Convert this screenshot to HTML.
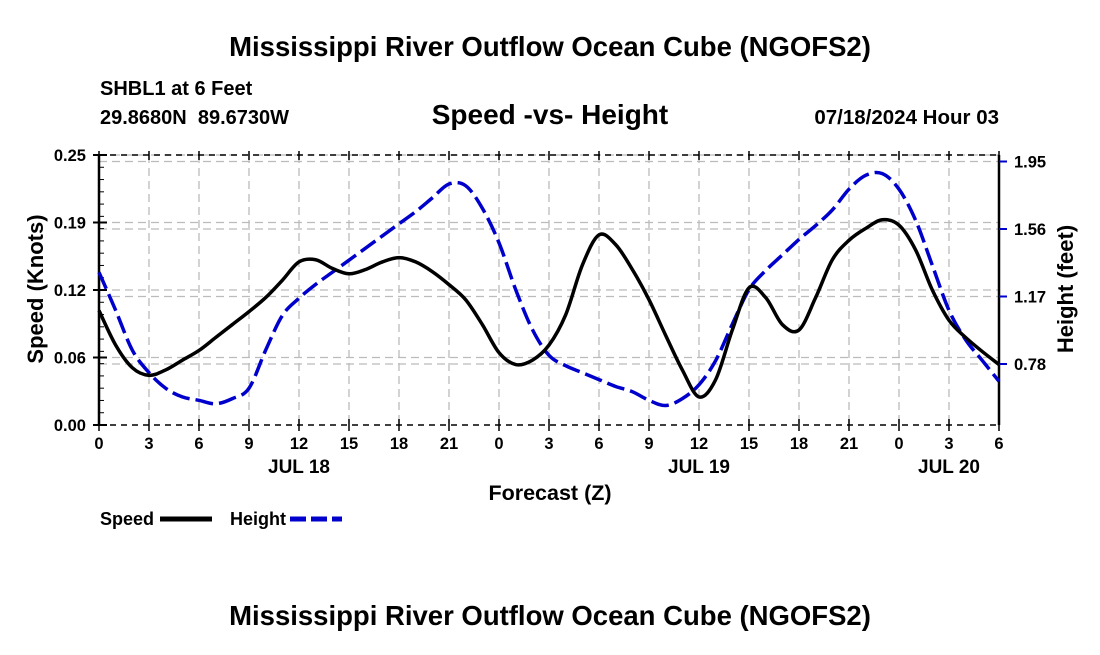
<!DOCTYPE html>
<html><head><meta charset="utf-8"><style>
body{margin:0;background:#fff;}
svg text{font-family:"Liberation Sans",Arial,sans-serif;font-weight:bold;fill:#000;}
</style></head><body>
<svg width="1100" height="650" viewBox="0 0 1100 650" xmlns="http://www.w3.org/2000/svg">
<text x="550" y="56" font-size="27.5" text-anchor="middle">Mississippi River Outflow Ocean Cube (NGOFS2)</text>
<text x="100" y="95" font-size="20">SHBL1 at 6 Feet</text>
<text x="100" y="124" font-size="20">29.8680N&#160;&#160;89.6730W</text>
<text x="550" y="124" font-size="28" text-anchor="middle">Speed -vs- Height</text>
<text x="999" y="124" font-size="20.5" text-anchor="end">07/18/2024 Hour 03</text>
<g id="grid"></g>
<g id="axes"></g>
<g id="series"></g>
<text x="0" y="0" font-size="22" text-anchor="middle" transform="translate(43,289) rotate(-90)">Speed (Knots)</text>
<text x="0" y="0" font-size="22" text-anchor="middle" transform="translate(1073,289) rotate(-90)">Height (feet)</text>
<text x="550" y="500" font-size="21.5" text-anchor="middle">Forecast (Z)</text>
<text x="100" y="525" font-size="18">Speed</text>
<line x1="160" y1="519" x2="212" y2="519" stroke="#000" stroke-width="5"/>
<text x="230" y="525" font-size="18">Height</text>
<line x1="290" y1="519" x2="342" y2="519" stroke="#0000cc" stroke-width="5" stroke-dasharray="16,5"/>
<text x="550" y="625" font-size="27.5" text-anchor="middle">Mississippi River Outflow Ocean Cube (NGOFS2)</text>
</svg>
<script>
const hours=[0,1,2,3,4,5,6,7,8,9,10,11,12,13,14,15,16,17,18,19,20,21,22,23,24,25,26,27,28,29,30,31,32,33,34,35,36,37,38,39,40,41,42,43,44,45,46,47,48,49,50,51,52,53,54];
const speed=[0.106,0.074,0.053,0.046,0.051,0.060,0.069,0.081,0.093,0.105,0.118,0.134,0.151,0.153,0.145,0.140,0.144,0.151,0.155,0.151,0.142,0.130,0.116,0.093,0.067,0.056,0.060,0.074,0.102,0.148,0.176,0.167,0.144,0.116,0.083,0.051,0.026,0.042,0.088,0.127,0.118,0.093,0.088,0.118,0.153,0.171,0.182,0.190,0.185,0.162,0.125,0.097,0.081,0.068,0.056];
const height=[1.31,1.09,0.86,0.73,0.64,0.59,0.57,0.55,0.58,0.64,0.86,1.06,1.16,1.24,1.31,1.38,1.45,1.52,1.59,1.66,1.74,1.82,1.81,1.68,1.48,1.21,0.98,0.83,0.77,0.73,0.69,0.65,0.62,0.57,0.54,0.58,0.66,0.80,1.01,1.21,1.32,1.41,1.50,1.58,1.67,1.79,1.87,1.88,1.79,1.61,1.35,1.09,0.92,0.80,0.68];
const xTickLabels=["0","3","6","9","12","15","18","21","0","3","6","9","12","15","18","21","0","3","6"];
const dayLabels=["JUL 18","JUL 19","JUL 20"];
const dayHours=[12,36,51];
const leftTicks=[0,0.0625,0.125,0.1875,0.25];
const leftTickLabels=["0.00","0.06","0.12","0.19","0.25"];
const rightTicks=[0.78,1.17,1.56,1.95];
const rightTickLabels=["0.78","1.17","1.56","1.95"];

const X0=99,X1=999,Y0=425,Y1=155;
const xs=h=>X0+(X1-X0)*h/54;
const ys=v=>Y0-(Y0-Y1)*v/0.25;
const yh=v=>364-(v-0.78)*(67.5/0.39);
const NS="http://www.w3.org/2000/svg";
function mk(parent,tag,attrs){const e=document.createElementNS(NS,tag);for(const k in attrs)e.setAttribute(k,attrs[k]);document.getElementById(parent).appendChild(e);return e;}

for(let i=1;i<xTickLabels.length-1;i++){const l=mk('grid','line',{x1:xs(i*3),x2:xs(i*3),y1:Y1,y2:Y0,stroke:'#bbb','stroke-width':1.3,'stroke-dasharray':'8,5'});

}
leftTicks.slice(1).forEach(v=>{const l=mk('grid','line',{x1:X0,x2:X1,y1:ys(v),y2:ys(v),stroke:'#bbb','stroke-width':1.3,'stroke-dasharray':'8,5'});

});
rightTicks.forEach(v=>{const l=mk('grid','line',{x1:X0,x2:X1,y1:yh(v),y2:yh(v),stroke:'#bbb','stroke-width':1.3,'stroke-dasharray':'8,5'});

});

mk('axes','line',{x1:X0,x2:X0,y1:Y1,y2:Y0,stroke:'#000','stroke-width':2.5});
mk('axes','line',{x1:X1,x2:X1,y1:Y1,y2:Y0,stroke:'#000','stroke-width':2.5});
mk('axes','line',{x1:X0,x2:X1,y1:Y0,y2:Y0,stroke:'#000','stroke-width':1.5,'stroke-dasharray':'6,5'});
mk('axes','line',{x1:X0,x2:X1,y1:Y1,y2:Y1,stroke:'#000','stroke-width':1.5,'stroke-dasharray':'6,5'});
for(let v=0;v<=0.25001;v+=0.25/22){mk('axes','line',{x1:X0,x2:X0+5,y1:ys(v),y2:ys(v),stroke:'#000','stroke-width':1});}
leftTicks.forEach((v,i)=>{mk('axes','line',{x1:X0-6,x2:X0+8,y1:ys(v),y2:ys(v),stroke:'#000','stroke-width':2});
const t=mk('axes','text',{x:X0-13,y:ys(v)+6,'font-size':16.5,'text-anchor':'end'});t.textContent=leftTickLabels[i];

});
rightTicks.forEach((v,i)=>{mk('axes','line',{x1:X1,x2:X1+8,y1:yh(v),y2:yh(v),stroke:'#0000cc','stroke-width':2});
const t=mk('axes','text',{x:X1+15,y:yh(v)+6,'font-size':16.5});t.textContent=rightTickLabels[i];

});
xTickLabels.forEach((s,i)=>{const x=xs(i*3);
mk('axes','line',{x1:x,x2:x,y1:Y0-6,y2:Y0+6,stroke:'#000','stroke-width':1.5});
mk('axes','line',{x1:x,x2:x,y1:Y1-4,y2:Y1+5,stroke:'#000','stroke-width':1.5});
const t=mk('axes','text',{x:x,y:Y0+24,'font-size':16.5,'text-anchor':'middle'});t.textContent=s;

});
dayLabels.forEach((s,i)=>{const t=mk('axes','text',{x:xs(dayHours[i]),y:Y0+48,'font-size':19,'text-anchor':'middle'});t.textContent=s;

});

function smooth(pts){let d=`M${pts[0][0]},${pts[0][1]}`;
for(let i=0;i<pts.length-1;i++){const p0=pts[Math.max(0,i-1)],p1=pts[i],p2=pts[i+1],p3=pts[Math.min(pts.length-1,i+2)];
d+=` C${p1[0]+(p2[0]-p0[0])/6},${p1[1]+(p2[1]-p0[1])/6} ${p2[0]-(p3[0]-p1[0])/6},${p2[1]-(p3[1]-p1[1])/6} ${p2[0]},${p2[1]}`;}
return d;}
const hp=mk('series','path',{d:smooth(hours.map((h,i)=>[xs(h),yh(height[i])])),fill:'none',stroke:'#0000cc','stroke-width':3.5,'stroke-dasharray':'18,6'});


const sp=mk('series','path',{d:smooth(hours.map((h,i)=>[xs(h),ys(speed[i])])),fill:'none',stroke:'#000','stroke-width':3.5});


</script>
</body></html>
